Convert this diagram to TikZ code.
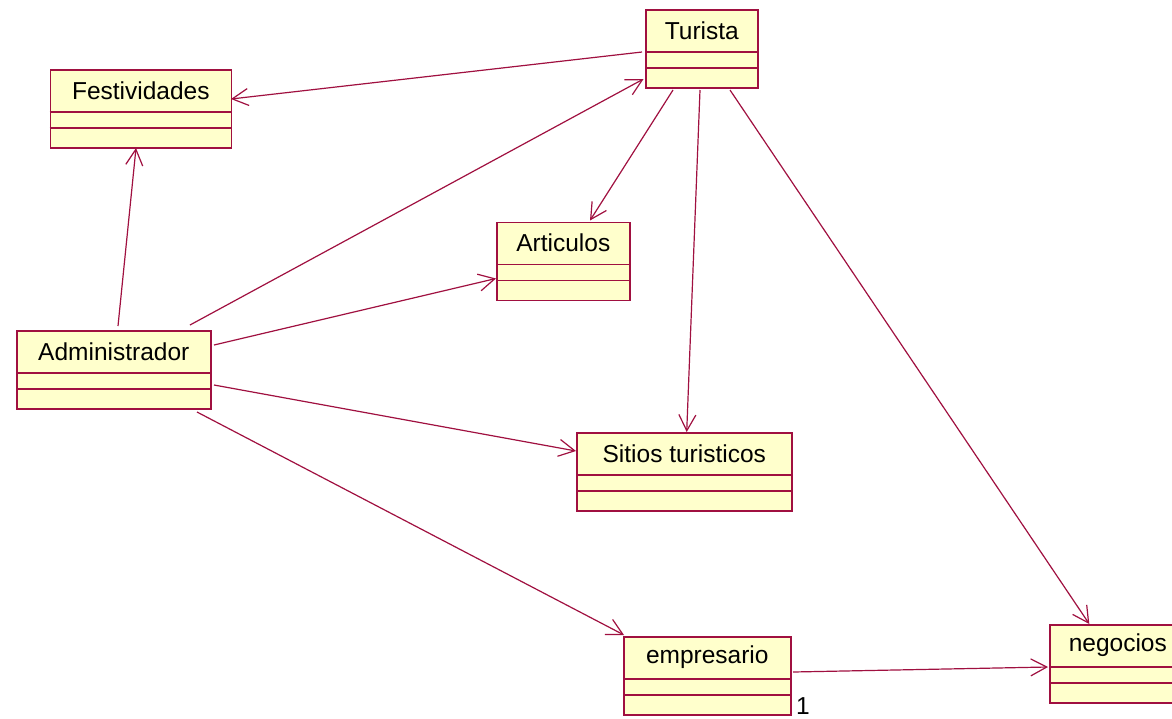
\documentclass[tikz,border=0pt]{standalone}
\usepackage{fontspec}
\setmainfont{Liberation Sans}
\usetikzlibrary{arrows.meta,calc}
\definecolor{rose}{RGB}{160,16,64}
\definecolor{classfill}{RGB}{255,255,204}
\tikzset{
  cbox/.style={draw=rose, fill=classfill, line width=1.6pt, inner sep=0pt,
    minimum height=78pt, anchor=north west},
  ctext/.style={inner sep=0pt, font=\fontsize{24.5}{29}\selectfont, text=black},
  cline/.style={draw=rose, line width=1.6pt},
  nav/.style={draw=rose, line width=1.2pt,
    -{Straight Barb[length=16pt,width=17pt,line width=1.2pt]}}
}
% class box: name, left, top, width, title
\newcommand\umlclass[5]{%
  \node[cbox, minimum width=#4pt] (#1) at (#2,#3) {};
  \node[ctext] (#1-name) at ($(#1.north)+(0pt,-21.5pt)$) {#5};
  \draw[cline] ([yshift=-43pt]#1.north west) -- ([yshift=-43pt]#1.north east);
  \draw[cline] ([yshift=-59pt]#1.north west) -- ([yshift=-59pt]#1.north east);
}
\begin{document}
\begin{tikzpicture}[x=1pt,y=-1pt]
\useasboundingbox (0,0) rectangle (1172,718);
\begin{scope}
\clip (0,0) rectangle (1172,718);
\fill[white] (0,0) rectangle (1172,718);

\umlclass{turista}{645}{9}{112}{Turista}
\umlclass{fest}{49.5}{69}{181}{Festividades}
\umlclass{articulos}{496}{221.5}{133}{Articulos}
\umlclass{admin}{16}{330}{194}{Administrador}
\umlclass{sitios}{576}{432}{215}{Sitios turisticos}
\umlclass{empresario}{623}{636}{167}{empresario}
\umlclass{negocios}{1049}{624}{136}{negocios}

% navigable associations
\draw[nav] ([shift={(-3,43)}]turista.north west) -- ([shift={(181.5,30)}]fest.north west);
\draw[nav] ([shift={(102,-4)}]admin.north west) -- ([shift={(86.5,79)}]fest.north west);
\draw[nav] ([shift={(174,-5)}]admin.north west) -- ([shift={(-1.5,70)}]turista.north west);
\draw[nav] ([shift={(198,15)}]admin.north west) -- ([shift={(0,57)}]articulos.north west);
\draw[nav] ([shift={(198,55)}]admin.north west) -- ([shift={(0,19)}]sitios.north west);
\draw[nav] ([shift={(181,82)}]admin.north west) -- ([shift={(1,-1)}]empresario.north west);
\draw[nav] ([shift={(28,81)}]turista.north west) -- ([shift={(94,-1)}]articulos.north west);
\draw[nav] ([shift={(55,81)}]turista.north west) -- ([shift={(110.7,0)}]sitios.north west);
\draw[nav] ([shift={(85,81)}]turista.north west) -- ([shift={(40.3,0)}]negocios.north west);
\draw[nav] ([shift={(170,36)}]empresario.north west) -- ([shift={(-1,43)}]negocios.north west);

\node[ctext] (mult1) at (803,706) {1};
\end{scope}
\end{tikzpicture}
\end{document}
